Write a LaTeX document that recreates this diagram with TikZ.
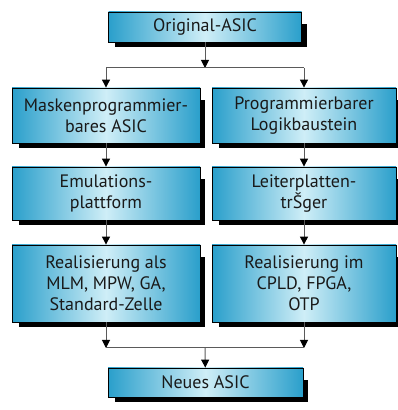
\documentclass[tikz,border=0pt]{standalone}
\usepackage{fontspec}
\setmainfont{PT Sans}
\usetikzlibrary{arrows.meta,backgrounds}

\definecolor{boxedge}{HTML}{2A9FCB}
\definecolor{boxmid}{HTML}{CFEEF7}
\definecolor{linegray}{HTML}{5A5A5A}

\begin{document}
\begin{tikzpicture}[x=1pt,y=1pt]
	\tikzstyle{every node}+=[inner sep=0pt]
	\tikzstyle{stepbox}=[draw=black, line width=0.8pt, left color=boxedge, right color=boxedge,
		middle color=boxmid, align=center, text=black!90,
		font=\fontsize{18}{21}\selectfont]
	\tikzstyle{flow}=[draw=linegray, line width=1pt, -{Triangle[width=8pt,length=8pt,color=black]}]
	\tikzstyle{plain}=[draw=linegray, line width=1pt]
	\useasboundingbox (0,0) rectangle (398,410);
	% boxes
	\node [stepbox, minimum width=193, minimum height=30] (orig) at (205,383) {Original-ASIC};
	\node [stepbox, minimum width=188, minimum height=55] (mask) at (106,294.5) {Maskenprogrammier-\\bares ASIC};
	\node [stepbox, minimum width=184, minimum height=55] (logik) at (304,294.5) {Programmierbarer\\Logikbaustein};
	\node [stepbox, minimum width=188, minimum height=53] (emu) at (106,216.5) {Emulations-\\plattform};
	\node [stepbox, minimum width=184, minimum height=53] (platte) at (304,216.5) {Leiterplatten-\\trŠger};
	\node [stepbox, minimum width=188, minimum height=77] (realA) at (106,126.5) {Realisierung als\\MLM, MPW, GA,\\Standard-Zelle};
	\node [stepbox, minimum width=184, minimum height=77] (realB) at (304,126.5) {Realisierung im\\CPLD, FPGA,\\OTP};
	\node [stepbox, minimum width=195, minimum height=29] (neu) at (205.5,27.5) {Neues ASIC};
	% shadows
	\begin{scope}[on background layer]
		\foreach \b in {orig,mask,logik,emu,platte,realA,realB,neu}
			\fill [black] ([shift={(7pt,-5pt)}]\b.south west) rectangle ([shift={(5pt,-12pt)}]\b.north east);
	\end{scope}
	% connectors
	\coordinate (split) at (205,342);
	\coordinate (merge) at (205,62);
	\draw [flow] (orig) -- (split);
	\draw [plain] (split -| mask) -- (split -| logik);
	\draw [flow] (split -| mask) -- (mask);
	\draw [flow] (split -| logik) -- (logik);
	\draw [flow] (mask) -- (emu);
	\draw [flow] (logik) -- (platte);
	\draw [flow] (emu) -- (realA);
	\draw [flow] (platte) -- (realB);
	\draw [flow] (realA) -- (merge -| realA);
	\draw [flow] (realB) -- (merge -| realB);
	\draw [plain] (merge -| realA) -- (merge -| realB);
	\draw [flow] (merge) -- (neu);
\end{tikzpicture}
\end{document}
